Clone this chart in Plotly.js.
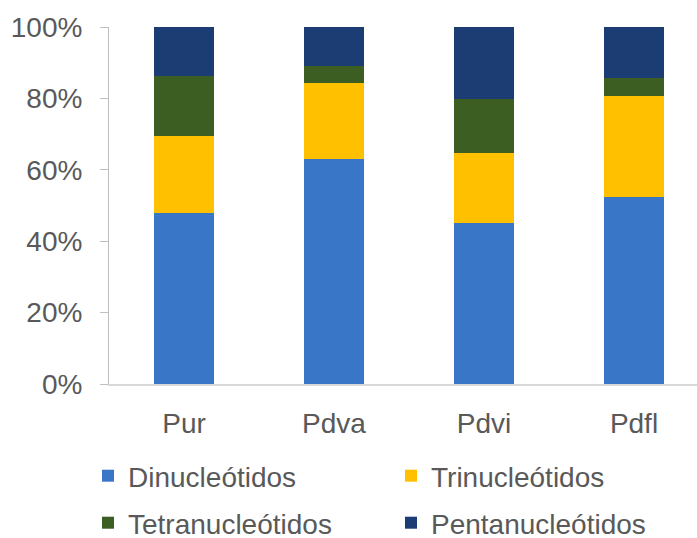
<!DOCTYPE html>
<html>
<head>
<meta charset="utf-8">
<script src="https://cdn.plot.ly/plotly-3.0.1.min.js"></script>
<style>html,body{margin:0;padding:0;background:#fff}#chart{width:697px;height:538px}</style>
</head>
<body>
<div id="chart"></div>
<script>
const categories = ["Pur", "Pdva", "Pdvi", "Pdfl"];
const dinucleotidos = [0.478, 0.631, 0.450, 0.523];
const trinucleotidos = [0.218, 0.211, 0.198, 0.285];
const tetranucleotidos = [0.168, 0.049, 0.150, 0.048];
const pentanucleotidos = [0.136, 0.109, 0.202, 0.144];
const seriesNames = ["Dinucleótidos", "Trinucleótidos", "Tetranucleótidos", "Pentanucleótidos"];
const yTickVals = [0, 0.2, 0.4, 0.6, 0.8, 1.0];
const yTickText = ["0%", "20%", "40%", "60%", "80%", "100%"];

const colors = ["#3a76c8", "#ffc000", "#3d5e23", "#1c3d74"];
const values = [dinucleotidos, trinucleotidos, tetranucleotidos, pentanucleotidos];
const legendIds = ["legend", "legend2", "legend3", "legend4"];

const fontFam = "Liberation Sans, Arial, sans-serif";
const txtColor = "#595959";
const fs = 28;

const traces = values.map((v, i) => ({
  type: "bar",
  x: categories,
  y: v,
  name: seriesNames[i],
  marker: {color: colors[i], line: {width: 0}},
  legend: legendIds[i],
  hoverinfo: "skip"
}));

const legendBase = {
  orientation: "h",
  xref: "container", yref: "container",
  xanchor: "left", yanchor: "middle",
  font: {family: fontFam, size: fs, color: txtColor},
  bgcolor: "rgba(0,0,0,0)",
  borderwidth: 0
};
// legend slot positions (container px): column x, row y
const legendX = [88, 391, 88, 391];
const legendY = [476, 476, 523, 523];

const layout = {
  width: 697, height: 538,
  margin: {l: 109, r: 0, t: 27, b: 153.5},
  paper_bgcolor: "#ffffff",
  plot_bgcolor: "#ffffff",
  barmode: "stack",
  bargap: 0.6,
  showlegend: true,
  font: {family: fontFam, size: fs, color: txtColor},
  xaxis: {
    range: [-0.5, 3.42],
    showgrid: false,
    showline: true, linecolor: "#d9d9d9", linewidth: 2,
    ticks: "", ticklabelstandoff: 13,
    tickfont: {family: fontFam, size: fs, color: txtColor},
    fixedrange: true
  },
  yaxis: {
    range: [0, 1],
    tickvals: yTickVals, ticktext: yTickText,
    showgrid: false, zeroline: false,
    showline: true, linecolor: "#bfbfbf", linewidth: 1,
    ticks: "outside", ticklen: 8, tickcolor: "#bfbfbf",
    ticklabelstandoff: 12,
    tickfont: {family: fontFam, size: fs, color: txtColor},
    fixedrange: true
  }
};
legendIds.forEach((id, i) => {
  layout[id] = Object.assign({}, legendBase, {x: legendX[i] / 697, y: 1 - legendY[i] / 538});
});

Plotly.newPlot("chart", traces, layout, {displayModeBar: false, staticPlot: true});
</script>
</body>
</html>
